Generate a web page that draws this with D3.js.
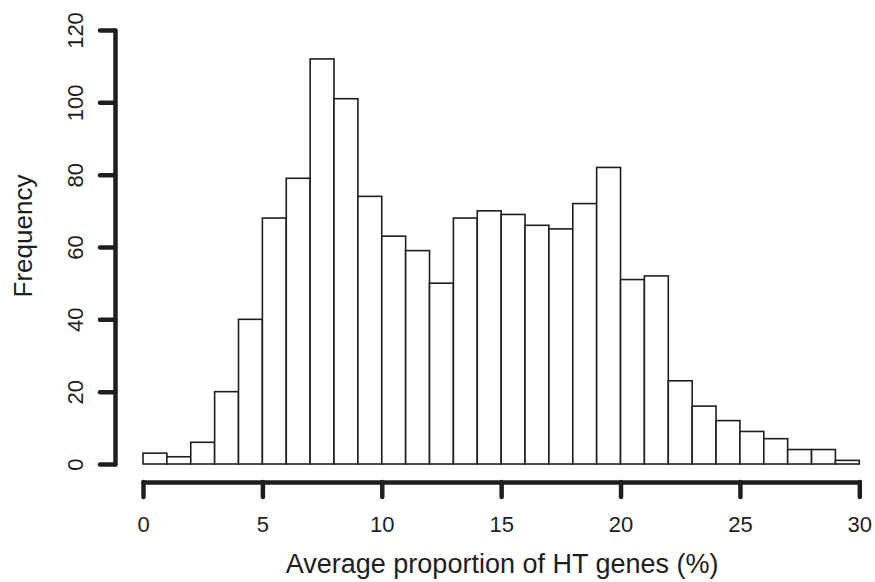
<!DOCTYPE html>
<html>
<head>
<meta charset="utf-8">
<script src="https://cdn.jsdelivr.net/npm/d3@7"></script>
<style>
  html, body { margin: 0; padding: 0; background: #fff; }
  svg { display: block; font-family: "Liberation Sans", Arial, Helvetica, sans-serif; }
</style>
</head>
<body>
<svg id="chart" width="875" height="582"></svg>
<script>
// Histogram bins: lower edges (%), bin width 1
const binStarts = [0, 1, 2, 3, 4, 5, 6, 7, 8, 9, 10, 11, 12, 13, 14, 15, 16, 17, 18, 19, 20, 21, 22, 23, 24, 25, 26, 27, 28, 29];
const binWidth = 1;
// Frequency in each bin
const counts = [3, 2, 6, 20, 40, 68, 79, 112, 101, 74, 63, 59, 50, 68, 70, 69, 66, 65, 72, 82, 51, 52, 23, 16, 12, 9, 7, 4, 4, 1];
// Axis ticks
const xTicks = [0, 5, 10, 15, 20, 25, 30];
const yTicks = [0, 20, 40, 60, 80, 100, 120];
const xLabel = "Average proportion of HT genes (%)";
const yLabel = "Frequency";

const svg = d3.select("#chart");
const ink = "#1e1e1e";

const x = d3.scaleLinear().domain([0, 30]).range([143, 859.3]);
const y = d3.scaleLinear().domain([0, 120]).range([464, 30]);

const bins = binStarts.map((b, i) => ({ x0: b, x1: b + binWidth, n: counts[i] }));

// Bars
svg.append("g")
  .selectAll("rect")
  .data(bins)
  .join("rect")
  .attr("x", d => x(d.x0))
  .attr("y", d => y(d.n))
  .attr("width", d => x(d.x1) - x(d.x0))
  .attr("height", d => y(0) - y(d.n))
  .attr("fill", "#fff")
  .attr("stroke", ink)
  .attr("stroke-width", 1.6);

// Y axis (offset to the left of the plot region)
const yAxis = svg.append("g")
  .attr("transform", "translate(115,0)")
  .call(d3.axisLeft(y).tickValues(yTicks).tickSize(15).tickSizeOuter(0).tickFormat(d3.format("d")));

yAxis.select(".domain").attr("stroke", ink).attr("stroke-width", 4.5).attr("stroke-linecap", "round");
yAxis.selectAll(".tick line").attr("stroke", ink).attr("stroke-width", 4.5).attr("stroke-linecap", "round");
yAxis.selectAll(".tick text")
  .attr("x", null).attr("dy", null)
  .attr("transform", "translate(-32,0) rotate(-90)")
  .attr("text-anchor", "middle")
  .attr("fill", ink)
  .style("font-size", "22px")
  .style("font-family", "'Liberation Sans', Arial, sans-serif");

// X axis (offset below the plot region)
const xAxis = svg.append("g")
  .attr("transform", "translate(0,482)")
  .call(d3.axisBottom(x).tickValues(xTicks).tickSize(15).tickSizeOuter(0).tickFormat(d3.format("d")));

xAxis.select(".domain").attr("stroke", ink).attr("stroke-width", 4.5).attr("stroke-linecap", "round");
xAxis.selectAll(".tick line").attr("stroke", ink).attr("stroke-width", 4.5).attr("stroke-linecap", "round");
xAxis.selectAll(".tick text")
  .attr("y", 50).attr("dy", null)
  .attr("fill", ink)
  .style("font-size", "22px")
  .style("font-family", "'Liberation Sans', Arial, sans-serif");

// Axis titles
svg.append("text")
  .attr("x", (x(0) + x(30)) / 2 + 1)
  .attr("y", 573)
  .attr("text-anchor", "middle")
  .attr("fill", ink)
  .style("font-size", "27px")
  .text(xLabel);

svg.append("text")
  .attr("transform", "translate(32,236) rotate(-90)")
  .attr("text-anchor", "middle")
  .attr("fill", ink)
  .style("font-size", "26px")
  .text(yLabel);
</script>
</body>
</html>
